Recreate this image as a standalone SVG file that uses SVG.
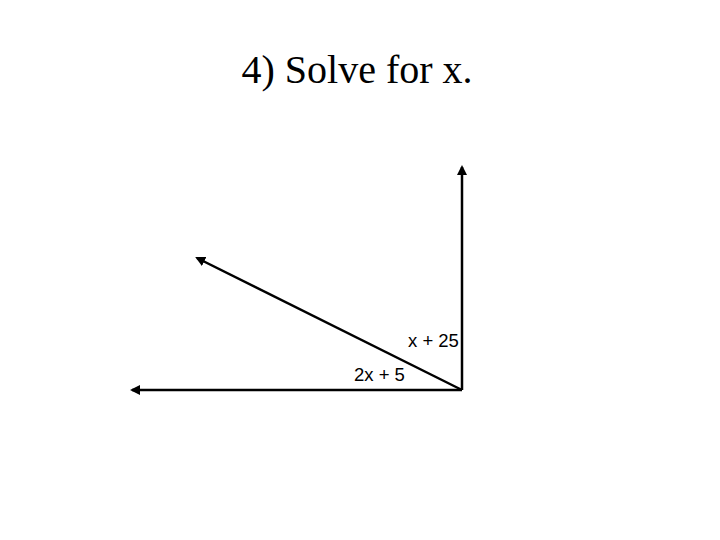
<svg xmlns="http://www.w3.org/2000/svg" width="720" height="540" viewBox="0 0 720 540">
<defs>
<marker id="ah" viewBox="0 0 10 10" refX="8" refY="5" markerWidth="4" markerHeight="4" orient="auto" markerUnits="strokeWidth">
<path d="M0,0 L10,5 L0,10 z" fill="#000"/>
</marker>
<style>
.ray{stroke:#000;stroke-width:2.5;fill:none;marker-end:url(#ah)}
.lbl{font-family:"Liberation Sans",Arial,sans-serif;font-size:18.5px;fill:#000}
</style>
</defs>
<rect width="720" height="540" fill="#fff"/>
<text x="357" y="83" text-anchor="middle" font-family="'Liberation Serif','Times New Roman',serif" font-size="40" fill="#000">4) Solve for x.</text>
<g id="connectors">
<line class="ray" x1="462" y1="390" x2="462" y2="167"/>
<line class="ray" x1="462" y1="390" x2="197" y2="258"/>
<line class="ray" x1="462" y1="390" x2="132" y2="390"/>
</g>
<g id="label-x25"><text class="lbl" x="408" y="347">x + 25</text></g>
<g id="label-2x5"><text class="lbl" x="354" y="381">2x + 5</text></g>
</svg>
